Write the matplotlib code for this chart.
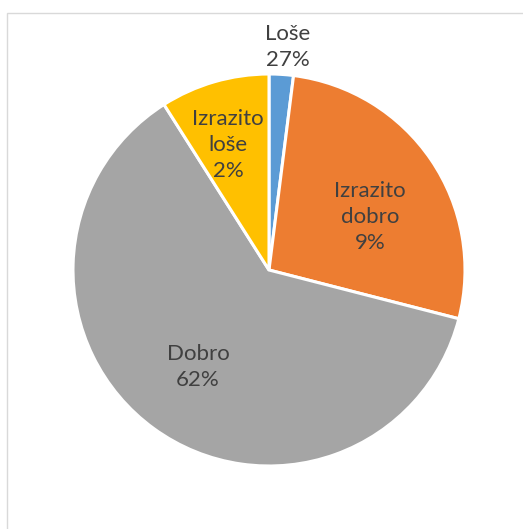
import matplotlib.pyplot as plt
from matplotlib.patches import Rectangle

# slice sizes, clockwise from 12 o'clock
slice_values = [2, 27, 62, 9]
slice_colors = ['#5B9BD5', '#ED7D31', '#A5A5A5', '#FFC000']

# data label texts as printed on the chart
label_names = ['Loše', 'Izrazito\ndobro', 'Dobro', 'Izrazito\nloše']
label_pcts = [27, 9, 62, 2]

W, H = 523, 529
cx, cy, r = 269, H - 270, 196

fig = plt.figure(figsize=(W / 100, H / 100), dpi=100)
ax = fig.add_axes([0, 0, 1, 1])
ax.set_xlim(0, W)
ax.set_ylim(0, H)
ax.set_aspect('equal')
ax.axis('off')

# chart frame
ax.add_patch(Rectangle((7, -20), W, H - 13 + 20, fill=False,
                       edgecolor='#d9d9d9', linewidth=1))

ax.pie(slice_values, colors=slice_colors, startangle=90, counterclock=False,
       center=(cx, cy), radius=r,
       wedgeprops=dict(edgecolor='white', linewidth=2.2))
ax.set_xlim(0, W)
ax.set_ylim(0, H)

# label centres (pixels from top-left)
label_pos = [(288, 47), (370, 217), (198, 367), (228, 145)]
for name, pct, (px, py) in zip(label_names, label_pcts, label_pos):
    ax.text(px, H - py, f'{name}\n{pct}%', ha='center', va='center',
            fontsize=16, color='#404040', family='Lato', linespacing=1.35)

fig.savefig('out.png', dpi=100)
